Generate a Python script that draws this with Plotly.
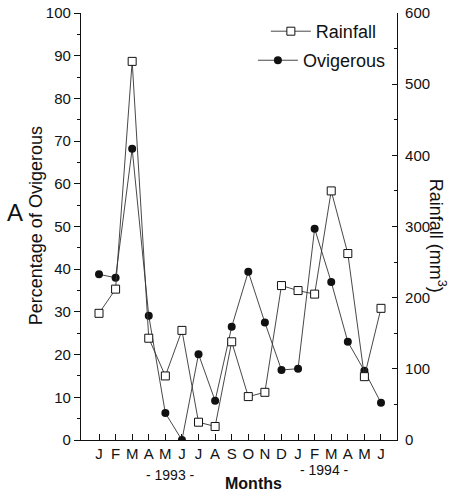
import plotly.graph_objects as go

months = ["J", "F", "M", "A", "M", "J", "J", "A", "S", "O", "N", "D",
          "J", "F", "M", "A", "M", "J"]
ovigerous = [38.8, 38.0, 68.2, 29.1, 6.3, 0.0, 20.1, 9.2, 26.5, 39.4, 27.5,
             16.4, 16.7, 49.5, 37.0, 23.0, 16.2, 8.7]
rainfall = [178, 212, 532, 143, 90, 154, 25, 19, 138, 61, 67, 217, 210, 205,
            350, 262, 89, 185]
xidx = list(range(len(months)))

FONT = "Liberation Sans, Arial, sans-serif"
INK = "#111111"

fig = go.Figure()
fig.add_trace(go.Scatter(
    x=xidx, y=rainfall, name="Rainfall", yaxis="y2", mode="lines+markers",
    line=dict(color="#333333", width=0.9),
    marker=dict(symbol="square", size=8, color="white",
                line=dict(color=INK, width=1)),
    legend="legend"))
fig.add_trace(go.Scatter(
    x=xidx, y=ovigerous, name="Ovigerous", yaxis="y", mode="lines+markers",
    line=dict(color="#333333", width=0.9),
    marker=dict(symbol="circle", size=8, color=INK),
    legend="legend2"))

fig.update_layout(
    width=453, height=497,
    margin=dict(l=81, r=56, t=13, b=57, autoexpand=False),
    paper_bgcolor="white", plot_bgcolor="white",
    font=dict(family=FONT, color=INK, size=15),
    xaxis=dict(
        range=[-1.085, 17.965], tickmode="array", tickvals=xidx,
        ticktext=months, ticks="inside", ticklen=6, tickwidth=1,
        tickcolor=INK, showline=True, linecolor=INK, linewidth=1.2,
        showgrid=False, zeroline=False, tickfont=dict(size=15),
        ticklabelstandoff=0),
    yaxis=dict(
        range=[0, 100], tickvals=list(range(0, 101, 10)), ticks="outside",
        ticklen=6, tickwidth=1, tickcolor=INK, showline=True,
        linecolor=INK, linewidth=1.2, showgrid=False, zeroline=False,
        minor=dict(dtick=5, ticks="outside", ticklen=3, tickcolor=INK),
        tickfont=dict(size=15)),
    yaxis2=dict(
        range=[0, 600], tickvals=list(range(0, 601, 100)), overlaying="y",
        side="right", ticks="inside", ticklen=5, tickwidth=1,
        tickcolor=INK, showline=True, linecolor=INK, linewidth=1.2,
        showgrid=False, zeroline=False,
        minor=dict(dtick=50, ticks="inside", ticklen=3, tickcolor=INK),
        tickfont=dict(size=15), ticklabelstandoff=4),
    legend=dict(x=0.585, y=1.0, xanchor="left", yanchor="top",
                itemwidth=40, bgcolor="rgba(0,0,0,0)", font=dict(size=18)),
    legend2=dict(x=0.544, y=0.932, xanchor="left", yanchor="top",
                 itemwidth=40, bgcolor="rgba(0,0,0,0)", font=dict(size=18)),
    showlegend=True,
)

annots = [
    dict(text="A", x=-0.209, y=0.532, font=dict(size=24)),
    dict(text="Percentage of Ovigerous", x=-0.142, y=0.501, textangle=-90,
         font=dict(size=18)),
    dict(text="Rainfall (mm<sup>3</sup>)", x=1.127, y=0.478, textangle=90,
         font=dict(size=18)),
    dict(text="<b>Months</b>", x=0.547, y=-0.101, font=dict(size=16)),
    dict(text="- 1993 -", x=0.282, y=-0.082, font=dict(size=14)),
    dict(text="- 1994 -", x=0.772, y=-0.070, font=dict(size=14)),
]
for a in annots:
    fig.add_annotation(xref="paper", yref="paper", showarrow=False,
                       xanchor="center", yanchor="middle", **a)

fig.write_html("out.html", config={"displayModeBar": False},
               post_script="document.body.style.margin='0px';")
